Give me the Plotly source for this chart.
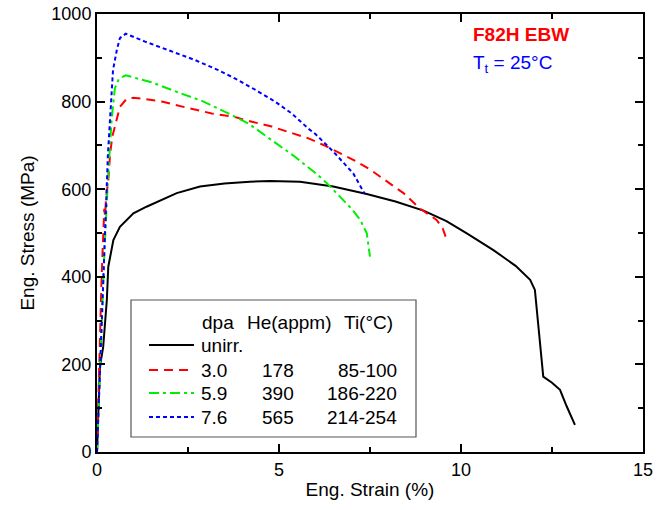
import plotly.graph_objects as go

# unirradiated
strain_unirr = [0, 0.08, 0.17, 0.27, 0.31, 0.45, 0.63, 0.72, 1.0, 1.36, 2.19, 2.83, 3.5, 4.2, 4.75,
                5.58, 6.49, 7.41, 8.2, 8.97, 9.6, 10.16, 10.89, 11.5, 11.9, 12.03, 12.26, 12.5,
                12.72, 12.9, 13.13]
stress_unirr = [0, 195, 240, 347, 423, 484, 514, 522, 545, 560, 591, 606, 613, 617, 619,
                617, 606, 589, 572, 551, 527, 499, 461, 425, 393, 370, 172, 158,
                142, 105, 62]

# 3.0 dpa
strain_30 = [0, 0.04, 0.08, 0.12, 0.15, 0.17, 0.2, 0.22, 0.25, 0.31, 0.36, 0.42, 0.49, 0.55, 0.63,
             0.8, 1.0, 1.4, 1.78, 2.42, 3.15, 3.79, 4.07, 4.8, 5.3, 5.81, 6.22, 7.04, 7.5, 7.96,
             8.42, 8.87, 9.1, 9.33, 9.5, 9.61]
stress_30 = [0, 150, 280, 380, 450, 520, 555, 540, 580, 620, 680, 720, 745, 760, 788,
             805, 809, 805, 800, 787, 773, 765, 758, 743, 730, 716, 701, 667, 645, 617,
             591, 556, 543, 530, 510, 484]

# 5.9 dpa
strain_59 = [0, 0.1, 0.2, 0.3, 0.4, 0.49, 0.6, 0.79, 1.5, 2.23, 2.87, 3.61, 4.16, 4.8, 5.44,
             5.8, 6.0, 6.3, 6.77, 7.0, 7.23, 7.41, 7.5]
stress_59 = [0, 250, 450, 620, 758, 830, 852, 860, 844, 821, 802, 773, 750, 712, 674,
             650, 637, 615, 575, 555, 530, 500, 446]

# 7.6 dpa
strain_76 = [0, 0.1, 0.2, 0.3, 0.44, 0.55, 0.63, 0.79, 1.32, 1.96, 2.69, 3.33, 3.88, 4.43, 4.89,
             5.35, 5.81, 6.0, 6.49, 7.04, 7.35]
stress_76 = [0, 230, 460, 680, 872, 920, 945, 955, 937, 918, 895, 872, 849, 823, 800,
             773, 738, 726, 686, 636, 590]

# legend table
leg_header = ["dpa", "He(appm)", "Ti(°C)"]
leg_dpa = ["unirr.", "3.0", "5.9", "7.6"]
leg_he = ["", "178", "390", "565"]
leg_ti = ["", "85-100", "186-220", "214-254"]
leg_colors = ["black", "red", "#00ee00", "blue"]
leg_dash = ["solid", "9px,6px", "10px,4px,3px,4px", "4px,3px"]

fig = go.Figure()
curves = [(strain_unirr, stress_unirr), (strain_30, stress_30), (strain_59, stress_59), (strain_76, stress_76)]
for (x, y), c, d in zip(curves, leg_colors, leg_dash):
    fig.add_trace(go.Scatter(x=x, y=y, mode="lines", line=dict(color=c, width=2, dash=d), showlegend=False))

F = "Liberation Sans, Arial, sans-serif"
FS = 19

# paper coords helpers: plot area is x 97..643, y 14..452 px
def px(xp):
    return (xp - 97) / 546

def py(yp):
    return (452 - yp) / 438

def note(x, y, text, anchor="left", size=FS, color="black"):
    fig.add_annotation(x=px(x), y=py(y), xref="paper", yref="paper", xanchor=anchor, yanchor="middle",
                       showarrow=False, text=text, font=dict(family=F, size=size, color=color))

fig.add_shape(type="rect", xref="paper", yref="paper", x0=px(131), x1=px(416), y0=py(437), y1=py(300),
              line=dict(color="#555", width=1.2), fillcolor="white", layer="above")
for t, xh in zip(leg_header, [200, 245, 342]):
    note(xh, 322, t)
rows_y = [345, 370, 393, 417]
for i in range(4):
    fig.add_shape(type="line", xref="paper", yref="paper", x0=px(149), x1=px(194), y0=py(rows_y[i]),
                  y1=py(rows_y[i]), line=dict(color=leg_colors[i], width=2, dash=leg_dash[i]), layer="above")
    note(199, rows_y[i], leg_dpa[i])
    if leg_he[i]:
        note(278, rows_y[i], leg_he[i], anchor="center")
        note(399, rows_y[i], leg_ti[i], anchor="right")

note(471, 34, "<b>F82H EBW</b>", size=19, color="red")
note(471, 64, "T<sub>t</sub> = 25°C", size=19, color="blue")

axis_common = dict(showline=True, linecolor="black", linewidth=2, mirror="ticks", ticks="inside",
                   ticklen=8, tickwidth=1.5, tickcolor="black", showgrid=False, zeroline=False,
                   automargin=False, ticklabeloverflow="allow",
                   tickfont=dict(family=F, size=18, color="black"))
fig.update_xaxes(range=[0, 15], dtick=5, title=dict(text="Eng. Strain (%)", font=dict(family=F, size=FS), standoff=4),
                 minor=dict(dtick=2.5, ticks="inside", ticklen=5, tickcolor="black", tickwidth=1.5), **axis_common)
fig.update_yaxes(range=[0, 1000], dtick=200, title=dict(text="Eng. Stress (MPa)", font=dict(family=F, size=FS), standoff=12),
                 minor=dict(dtick=100, ticks="inside", ticklen=5, tickcolor="black", tickwidth=1.5), **axis_common)
fig.update_layout(width=672, height=510, margin=dict(l=97, r=29, t=14, b=58),
                  plot_bgcolor="white", paper_bgcolor="white", font=dict(family=F, color="black"))

# drop the browser's default 8px body margin so the figure sits at the page origin
fig.write_html("out.html", config={"displayModeBar": False},
               post_script="document.body.style.margin='0';")
